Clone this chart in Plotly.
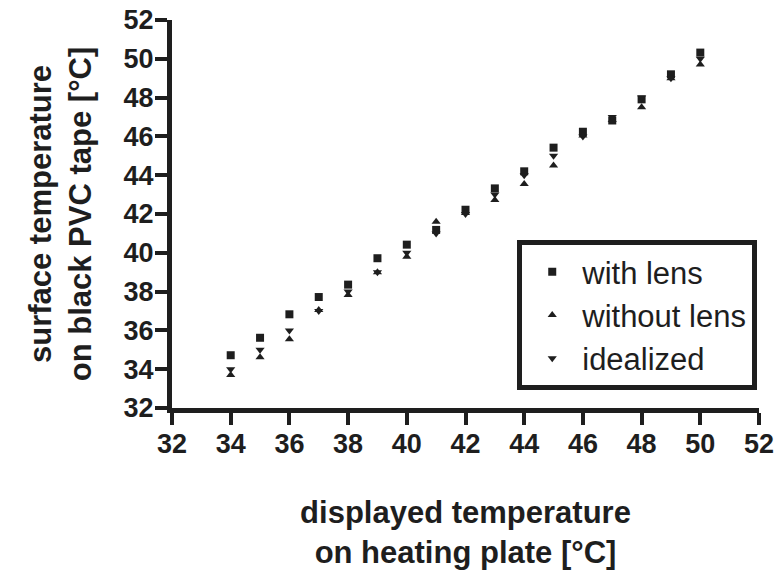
import plotly.graph_objects as go

x_vals = [34, 35, 36, 37, 38, 39, 40, 41, 42, 43, 44, 45, 46, 47, 48, 49, 50]
with_lens = [34.72, 35.62, 36.83, 37.72, 38.36, 39.72, 40.42, 41.18, 42.22, 43.32,
             44.2, 45.42, 46.24, 46.82, 47.91, 49.2, 50.32]
without_lens = [33.7, 34.62, 35.55, 37.05, 37.82, 39.0, 39.8, 41.6, 42.05, 42.72,
                43.55, 44.5, 46.05, 46.85, 47.5, 49.0, 49.7]
idealized = [34, 35, 36, 37, 38, 39, 40, 41, 42, 43, 44, 45, 46, 47, 48, 49, 50]
tick_vals = [32, 34, 36, 38, 40, 42, 44, 46, 48, 50, 52]

ink = "#1e1e1e"
font_b = "Liberation Sans"

fig = go.Figure()
fig.add_trace(go.Scatter(x=x_vals, y=with_lens, mode="markers", name="with lens",
                         legendgroup="a",
                         marker=dict(symbol="square", size=8, color=ink)))
fig.add_trace(go.Scatter(x=x_vals, y=without_lens, mode="markers", name="without lens",
                         legendgroup="b",
                         marker=dict(symbol="triangle-up", size=8, color=ink)))
fig.add_trace(go.Scatter(x=x_vals, y=idealized, mode="markers", name="idealized",
                         legendgroup="c",
                         marker=dict(symbol="triangle-down", size=8, color=ink)))

axis_common = dict(
    range=[32, 52], tickvals=tick_vals, ticktext=[str(v) for v in tick_vals],
    showline=True, linewidth=5, linecolor=ink, mirror=False,
    ticks="outside", ticklen=12, tickwidth=4, tickcolor=ink,
    showgrid=False, zeroline=False, automargin=False,
    tickfont=dict(family=font_b, size=27, color=ink, weight="bold"),
    ticklabelstandoff=-4, ticklabeloverflow="allow",
)

fig.update_layout(
    width=774, height=570,
    margin=dict(l=172, r=15, t=20, b=162),
    paper_bgcolor="white", plot_bgcolor="white",
    xaxis=dict(**axis_common,
               title=dict(text="<b>displayed temperature<br>on heating plate [°C]</b>",
                          font=dict(family=font_b, size=31, color=ink), standoff=44)),
    yaxis=dict(**axis_common,
               title=dict(text="<b>surface temperature<br>on black PVC tape [°C]</b>",
                          font=dict(family=font_b, size=31, color=ink), standoff=24)),
    legend=dict(x=0.997, y=0.433, xanchor="right", yanchor="top",
                bordercolor=ink, borderwidth=5, bgcolor="white",
                font=dict(family=font_b, size=31, color=ink),
                traceorder="grouped", tracegroupgap=0, itemwidth=50),
    showlegend=True,
)

fig.write_html("out.html")
